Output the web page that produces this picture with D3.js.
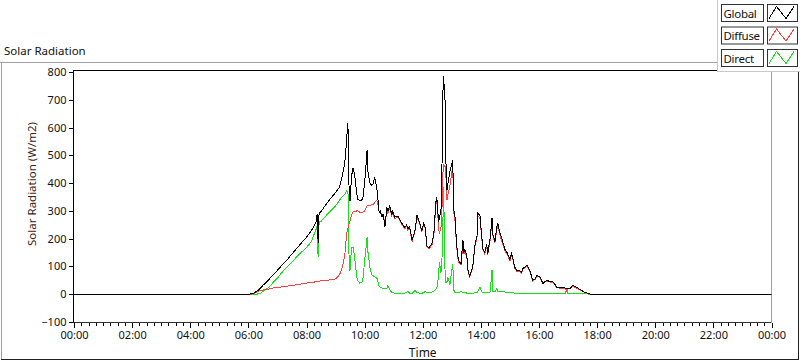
<!DOCTYPE html>
<html><head><meta charset="utf-8">
<script src="https://cdn.jsdelivr.net/npm/d3@7/dist/d3.min.js"></script>
<style>
html,body{margin:0;padding:0;background:#fff;}
svg{display:block;}
text{font-family:"Noto Sans","Open Sans",sans-serif;}
</style></head>
<body><svg id="c" width="800" height="361"></svg>
<script>
// ---- data ----
const times = ["00:00","06:00","06:09","06:15","06:20","06:25","06:30","06:40","06:50","07:00",
"07:10","07:20","07:30","07:40","07:50","08:00","08:10","08:20","08:22","08:24",
"08:26","08:30","08:40","08:50","09:00","09:08","09:13","09:19","09:23","09:25",
"09:27","09:28","09:30","09:33","09:36","09:38","09:40","09:44","09:46","09:50",
"09:56","10:00","10:03","10:05","10:07","10:11","10:15","10:17","10:21","10:25",
"10:27","10:30","10:32","10:36","10:38","10:42","10:46","10:48","10:52","10:56",
"10:58","11:02","11:09","11:17","11:23","11:27","11:29","11:33","11:38","11:44",
"11:48","11:54","11:58","12:02","12:05","12:09","12:13","12:19","12:23","12:27",
"12:29","12:31","12:33","12:35","12:37","12:39","12:41","12:43","12:46","12:48",
"12:50","12:52","12:56","13:00","13:02","13:04","13:06","13:10","13:13","13:15",
"13:19","13:23","13:25","13:27","13:31","13:33","13:37","13:43","13:48","13:52",
"13:54","13:58","14:02","14:04","14:08","14:12","14:14","14:19","14:23","14:25",
"14:29","14:33","14:35","14:39","14:45","14:50","14:54","15:00","15:03","15:06",
"15:10","15:14","15:21","15:24","15:27","15:35","15:41","15:47","15:52","15:56",
"16:02","16:08","16:16","16:22","16:29","16:37","16:45","16:55","16:57","16:59",
"17:04","17:10","17:18","17:24","17:31","17:39","17:45","17:50","24:00"];

const globalVals = [0,0,2,8,14,22,32,48,68,86,
106,124,145,165,186,205,228,262,290,185,
292,298,322,345,366,385,420,470,560,615,
560,340,338,425,455,440,420,360,340,338,
340,400,470,518,440,400,392,395,420,385,
350,295,300,277,290,243,313,300,318,285,
300,277,282,255,240,250,236,242,194,230,
284,255,230,255,240,172,168,182,220,330,
350,300,262,277,300,320,698,785,698,470,
375,400,440,470,482,300,295,180,130,118,
111,194,150,160,140,90,65,97,180,210,
291,285,205,165,150,180,145,200,275,215,
190,245,255,222,190,160,150,125,147,130,
97,86,84,79,93,104,86,50,55,68,
62,39,50,46,45,25,24,22,22,22,
21,32,25,18,10,4,1,0,0];

const diffuseVals = [0,0,1,5,10,13,15,18,22,24,
27,29,32,34,37,40,42,45,46,46,
47,48,50,52,55,70,90,140,220,235,
245,255,266,285,295,298,298,300,300,295,
295,300,310,318,320,320,322,322,330,338,
330,295,300,280,285,255,300,290,310,280,
295,272,278,250,236,246,232,238,190,226,
280,250,226,250,236,168,164,178,215,320,
340,290,230,220,240,245,420,465,460,420,
338,360,390,440,460,290,280,170,125,112,
105,185,145,155,135,86,62,94,175,205,
280,275,200,160,145,175,140,195,260,210,
185,235,245,215,180,155,145,120,142,126,
94,83,81,76,90,100,83,48,53,65,
60,37,48,44,43,23,22,20,12,20,
19,29,22,16,9,3,1,0,0];

const directVals = [0,0,0,0,1,3,10,22,40,58,
80,98,115,135,152,168,190,235,245,133,
260,262,282,300,318,338,350,360,372,370,
340,86,90,168,170,150,122,60,48,40,
45,120,170,205,150,95,70,68,62,60,
48,28,25,22,20,20,22,30,15,6,
6,4,4,4,4,6,10,4,3,14,
5,4,4,5,12,5,6,8,12,18,
20,40,86,115,75,90,200,385,86,40,
45,60,35,86,110,15,8,8,6,6,
10,6,5,6,4,4,4,4,5,6,
10,25,8,5,5,5,5,8,86,10,
8,20,10,10,10,8,7,6,6,5,
4,3,3,3,3,4,4,4,4,4,
4,4,4,4,4,4,4,4,20,4,
4,4,3,3,2,1,0,0,0];

const seriesNames = ["Global","Diffuse","Direct"];
const seriesColors = ["#000000","#ff4040","#16e016"];
const yTicks = [-100,0,100,200,300,400,500,600,700,800];
const xTickLabels = ["00:00","02:00","04:00","06:00","08:00","10:00","12:00","14:00","16:00","18:00","20:00","22:00","00:00"];
const chartTitle = "Solar Radiation";
const yTitle = "Solar Radiation (W/m2)";
const xTitle = "Time";

// ---- drawing ----
const toMin = s => { const [h,m] = s.split(":").map(Number); return h*60+m; };
const svg = d3.select("#c");
const L = 74, R = 771.5, T = 72, B = 322;
const x = d3.scaleLinear().domain([0,1440]).range([L,R]);
const y = d3.scaleLinear().domain([-100,800]).range([B,T]);

// outer panel frame
svg.append("line").attr("x1",0).attr("x2",718).attr("y1",62.5).attr("y2",62.5).attr("stroke","#a0a0a0");
svg.append("line").attr("x1",1.5).attr("x2",1.5).attr("y1",62).attr("y2",360).attr("stroke","#a0a0a0");
svg.append("line").attr("x1",1).attr("x2",799).attr("y1",359.5).attr("y2",359.5).attr("stroke","#202020");
svg.append("line").attr("x1",798.5).attr("x2",798.5).attr("y1",72).attr("y2",360).attr("stroke","#202020");

svg.append("text").attr("x",4).attr("y",55).attr("font-size",11.5).attr("fill","#111").text(chartTitle);

// plot frame
svg.append("line").attr("x1",L).attr("x2",R).attr("y1",70.5).attr("y2",70.5).attr("stroke","#000");
svg.append("line").attr("x1",R).attr("x2",R).attr("y1",70).attr("y2",B).attr("stroke","#a0a0a0");

// y axis
const gy = svg.append("g").attr("transform",`translate(${L-0.5},0)`)
  .call(d3.axisLeft(y).tickValues(yTicks).tickSize(5).tickPadding(2).tickFormat(d3.format("d")));
gy.select(".domain").remove();
gy.selectAll("line").attr("stroke","#000").attr("shape-rendering","crispEdges");
gy.selectAll("text").attr("font-size",11).attr("fill","#111").attr("font-family","Noto Sans");
svg.append("line").attr("x1",L-0.5).attr("x2",L-0.5).attr("y1",70).attr("y2",B+1).attr("stroke","#000");

// x axis minor + major
const minor = d3.range(0,1441,15).filter(v=>v%120!==0);
const gxm = svg.append("g").attr("transform",`translate(0,${B+0.5})`)
  .call(d3.axisBottom(x).tickValues(minor).tickSize(3).tickFormat(""));
gxm.select(".domain").remove();
gxm.selectAll("line").attr("stroke","#000").attr("shape-rendering","crispEdges");
const major = d3.range(0,1441,120);
const gx = svg.append("g").attr("transform",`translate(0,${B+0.5})`)
  .call(d3.axisBottom(x).tickValues(major).tickSize(5).tickPadding(4).tickFormat((d,i)=>xTickLabels[i]));
gx.select(".domain").remove();
gx.selectAll("line").attr("stroke","#000").attr("shape-rendering","crispEdges");
gx.selectAll("text").attr("font-size",11).attr("fill","#111").attr("font-family","Noto Sans");
svg.append("line").attr("x1",L-0.5).attr("x2",R).attr("y1",B+0.5).attr("y2",B+0.5).attr("stroke","#303030");

// axis titles
svg.append("text").attr("transform",`translate(36,184) rotate(-90)`).attr("text-anchor","middle")
  .attr("font-size",11.5).attr("fill","#3d2314").text(yTitle);
svg.append("text").attr("x",(L+R)/2).attr("y",357).attr("text-anchor","middle")
  .attr("font-size",12).attr("fill","#111").text(xTitle);

// lines
const tm = times.map(toMin);
const seriesVals = [globalVals, diffuseVals, directVals];
const line = d3.line().x(d=>x(d[0])).y(d=>y(d[1]));
svg.append("clipPath").attr("id","pc").append("rect").attr("x",L).attr("y",T-2).attr("width",R-L).attr("height",B-T+2);
const plotG = svg.append("g").attr("clip-path","url(#pc)");
[2,1,0].forEach(i=>{
  plotG.append("path").datum(tm.map((t,k)=>[t,seriesVals[i][k]]))
    .attr("d",line).attr("fill","none").attr("stroke",seriesColors[i]).attr("stroke-width",1)
    .attr("shape-rendering","crispEdges");
});

// legend
const lg = svg.append("g");
lg.append("rect").attr("x",717.5).attr("y",-1).attr("width",90).attr("height",72.5).attr("fill","#fff").attr("stroke","#c8c8c8");
seriesNames.forEach((n,i)=>{
  const oy = 4.5 + i*22.5;
  lg.append("rect").attr("x",721.5).attr("y",oy).attr("width",42).attr("height",17).attr("fill","#fff").attr("stroke","#333");
  lg.append("text").attr("x",723.5).attr("y",oy+13).attr("font-size",11.5).attr("letter-spacing",-0.3).attr("fill","#111").text(n);
  lg.append("rect").attr("x",767.5).attr("y",oy).attr("width",30).attr("height",17).attr("fill","#fff").attr("stroke","#333");
  lg.append("path").attr("d",`M769,${oy+14}L776.5,${oy+2}L786,${oy+14}L794,${oy+2}`)
    .attr("fill","none").attr("stroke",seriesColors[i]).attr("shape-rendering","crispEdges");
});
</script></body></html>
